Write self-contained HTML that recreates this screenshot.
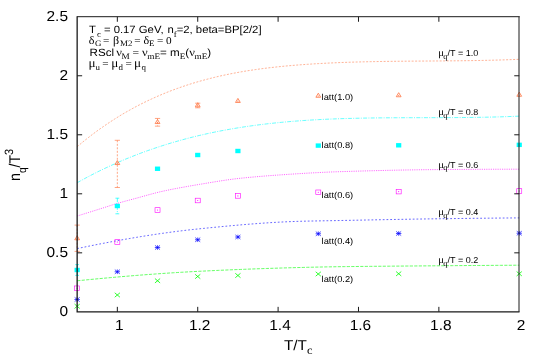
<!DOCTYPE html>
<html><head><meta charset="utf-8"><title>plot</title>
<style>html,body{margin:0;padding:0;background:#fff;}svg{display:block;will-change:transform}text{fill:#000;-webkit-font-smoothing:antialiased;text-rendering:geometricPrecision}</style></head>
<body><svg width="545" height="354" viewBox="0 0 545 354">
<rect width="545" height="354" fill="#fff"/>
<path d="M77.2,146.67 L80.9,143.57 L84.6,140.55 L88.3,137.62 L92.0,134.77 L95.7,131.99 L99.4,129.30 L103.2,126.68 L106.9,124.13 L110.6,121.66 L114.3,119.27 L118.0,116.94 L121.7,114.68 L125.4,112.50 L129.2,110.38 L132.9,108.32 L136.6,106.34 L140.3,104.41 L144.0,102.55 L147.7,100.75 L151.5,99.01 L155.2,97.32 L158.9,95.70 L162.6,94.13 L166.3,92.61 L170.0,91.15 L173.7,89.74 L177.5,88.38 L181.2,87.07 L184.9,85.81 L188.6,84.60 L192.3,83.43 L196.0,82.31 L199.7,81.23 L203.5,80.19 L207.2,79.20 L210.9,78.24 L214.6,77.33 L218.3,76.45 L222.0,75.61 L225.8,74.81 L229.5,74.04 L233.2,73.31 L236.9,72.61 L240.6,71.95 L244.3,71.31 L248.0,70.70 L251.8,70.13 L255.5,69.58 L259.2,69.06 L262.9,68.56 L266.6,68.10 L270.3,67.65 L274.1,67.23 L277.8,66.83 L281.5,66.45 L285.2,66.09 L288.9,65.75 L292.6,65.43 L296.3,65.12 L300.1,64.83 L303.8,64.56 L307.5,64.30 L311.2,64.05 L314.9,63.82 L318.6,63.60 L322.3,63.40 L326.1,63.20 L329.8,63.02 L333.5,62.85 L337.2,62.69 L340.9,62.54 L344.6,62.40 L348.4,62.27 L352.1,62.15 L355.8,62.04 L359.5,61.94 L363.2,61.85 L366.9,61.76 L370.6,61.68 L374.4,61.61 L378.1,61.54 L381.8,61.48 L385.5,61.42 L389.2,61.37 L392.9,61.32 L396.7,61.28 L400.4,61.24 L404.1,61.21 L407.8,61.17 L411.5,61.14 L415.2,61.11 L418.9,61.09 L422.7,61.06 L426.4,61.04 L430.1,61.01 L433.8,60.98 L437.5,60.96 L441.2,60.93 L444.9,60.90 L448.7,60.87 L452.4,60.84 L456.1,60.80 L459.8,60.76 L463.5,60.72 L467.2,60.67 L471.0,60.62 L474.7,60.56 L478.4,60.49 L482.1,60.43 L485.8,60.35 L489.5,60.27 L493.2,60.18 L497.0,60.08 L500.7,59.98 L504.4,59.86 L508.1,59.74 L511.8,59.61 L515.5,59.47 L519.2,59.31" fill="none" stroke="#ff7f50" stroke-width="0.6" stroke-dasharray="2,1.5"/>
<path d="M77.2,182.70 L80.9,180.64 L84.6,178.62 L88.3,176.65 L92.0,174.72 L95.7,172.83 L99.4,170.99 L103.2,169.18 L106.9,167.42 L110.6,165.70 L114.3,164.02 L118.0,162.38 L121.7,160.78 L125.4,159.21 L129.2,157.69 L132.9,156.20 L136.6,154.75 L140.3,153.34 L144.0,151.97 L147.7,150.63 L151.5,149.32 L155.2,148.05 L158.9,146.82 L162.6,145.62 L166.3,144.45 L170.0,143.32 L173.7,142.22 L177.5,141.15 L181.2,140.11 L184.9,139.10 L188.6,138.13 L192.3,137.18 L196.0,136.27 L199.7,135.38 L203.5,134.53 L207.2,133.70 L210.9,132.90 L214.6,132.12 L218.3,131.38 L222.0,130.66 L225.8,129.96 L229.5,129.29 L233.2,128.65 L236.9,128.03 L240.6,127.43 L244.3,126.86 L248.0,126.31 L251.8,125.79 L255.5,125.28 L259.2,124.80 L262.9,124.34 L266.6,123.90 L270.3,123.48 L274.1,123.07 L277.8,122.69 L281.5,122.33 L285.2,121.99 L288.9,121.66 L292.6,121.35 L296.3,121.06 L300.1,120.78 L303.8,120.52 L307.5,120.27 L311.2,120.04 L314.9,119.83 L318.6,119.63 L322.3,119.44 L326.1,119.26 L329.8,119.10 L333.5,118.95 L337.2,118.81 L340.9,118.68 L344.6,118.56 L348.4,118.45 L352.1,118.36 L355.8,118.27 L359.5,118.19 L363.2,118.12 L366.9,118.05 L370.6,117.99 L374.4,117.94 L378.1,117.90 L381.8,117.86 L385.5,117.83 L389.2,117.80 L392.9,117.78 L396.7,117.76 L400.4,117.74 L404.1,117.73 L407.8,117.72 L411.5,117.71 L415.2,117.70 L418.9,117.69 L422.7,117.69 L426.4,117.68 L430.1,117.67 L433.8,117.67 L437.5,117.66 L441.2,117.65 L444.9,117.63 L448.7,117.62 L452.4,117.60 L456.1,117.58 L459.8,117.55 L463.5,117.52 L467.2,117.48 L471.0,117.44 L474.7,117.39 L478.4,117.33 L482.1,117.27 L485.8,117.20 L489.5,117.12 L493.2,117.03 L497.0,116.94 L500.7,116.83 L504.4,116.71 L508.1,116.59 L511.8,116.45 L515.5,116.30 L519.2,116.14" fill="none" stroke="#00ffff" stroke-width="0.6" stroke-dasharray="4,1.3,1,1.3"/>
<path d="M77.2,216.01 L80.9,214.86 L84.6,213.71 L88.3,212.56 L92.0,211.40 L95.7,210.24 L99.4,209.08 L103.2,207.90 L106.9,206.70 L110.6,205.50 L114.3,204.33 L118.0,203.22 L121.7,202.16 L125.4,201.13 L129.2,200.13 L132.9,199.13 L136.6,198.13 L140.3,197.11 L144.0,196.07 L147.7,195.03 L151.5,194.02 L155.2,193.04 L158.9,192.12 L162.6,191.27 L166.3,190.47 L170.0,189.70 L173.7,188.96 L177.5,188.25 L181.2,187.56 L184.9,186.89 L188.6,186.23 L192.3,185.59 L196.0,184.96 L199.7,184.34 L203.5,183.72 L207.2,183.10 L210.9,182.47 L214.6,181.86 L218.3,181.26 L222.0,180.68 L225.8,180.12 L229.5,179.59 L233.2,179.10 L236.9,178.64 L240.6,178.24 L244.3,177.86 L248.0,177.49 L251.8,177.15 L255.5,176.81 L259.2,176.49 L262.9,176.19 L266.6,175.89 L270.3,175.61 L274.1,175.33 L277.8,175.07 L281.5,174.81 L285.2,174.56 L288.9,174.31 L292.6,174.07 L296.3,173.83 L300.1,173.60 L303.8,173.37 L307.5,173.15 L311.2,172.95 L314.9,172.75 L318.6,172.57 L322.3,172.39 L326.1,172.21 L329.8,172.04 L333.5,171.89 L337.2,171.76 L340.9,171.64 L344.6,171.53 L348.4,171.42 L352.1,171.30 L355.8,171.20 L359.5,171.09 L363.2,170.98 L366.9,170.88 L370.6,170.78 L374.4,170.68 L378.1,170.59 L381.8,170.50 L385.5,170.41 L389.2,170.33 L392.9,170.24 L396.7,170.17 L400.4,170.09 L404.1,170.02 L407.8,169.96 L411.5,169.90 L415.2,169.84 L418.9,169.78 L422.7,169.74 L426.4,169.69 L430.1,169.65 L433.8,169.62 L437.5,169.59 L441.2,169.56 L444.9,169.53 L448.7,169.50 L452.4,169.48 L456.1,169.45 L459.8,169.43 L463.5,169.40 L467.2,169.38 L471.0,169.36 L474.7,169.33 L478.4,169.31 L482.1,169.30 L485.8,169.28 L489.5,169.26 L493.2,169.25 L497.0,169.24 L500.7,169.23 L504.4,169.22 L508.1,169.21 L511.8,169.20 L515.5,169.20 L519.2,169.20" fill="none" stroke="#ff00ff" stroke-width="0.62" stroke-dasharray="1.1,1.15"/>
<path d="M77.2,248.57 L80.9,247.80 L84.6,247.04 L88.3,246.28 L92.0,245.53 L95.7,244.79 L99.4,244.06 L103.2,243.34 L106.9,242.63 L110.6,241.93 L114.3,241.24 L118.0,240.56 L121.7,239.89 L125.4,239.23 L129.2,238.58 L132.9,237.95 L136.6,237.32 L140.3,236.71 L144.0,236.11 L147.7,235.53 L151.5,234.95 L155.2,234.39 L158.9,233.84 L162.6,233.31 L166.3,232.79 L170.0,232.28 L173.7,231.79 L177.5,231.31 L181.2,230.85 L184.9,230.40 L188.6,229.97 L192.3,229.56 L196.0,229.16 L199.7,228.78 L203.5,228.40 L207.2,228.03 L210.9,227.66 L214.6,227.30 L218.3,226.94 L222.0,226.58 L225.8,226.23 L229.5,225.89 L233.2,225.55 L236.9,225.22 L240.6,224.90 L244.3,224.58 L248.0,224.28 L251.8,223.98 L255.5,223.70 L259.2,223.42 L262.9,223.16 L266.6,222.91 L270.3,222.67 L274.1,222.44 L277.8,222.23 L281.5,222.04 L285.2,221.86 L288.9,221.69 L292.6,221.54 L296.3,221.41 L300.1,221.30 L303.8,221.20 L307.5,221.11 L311.2,221.03 L314.9,220.96 L318.6,220.90 L322.3,220.83 L326.1,220.77 L329.8,220.71 L333.5,220.65 L337.2,220.58 L340.9,220.51 L344.6,220.44 L348.4,220.36 L352.1,220.29 L355.8,220.22 L359.5,220.15 L363.2,220.07 L366.9,220.00 L370.6,219.93 L374.4,219.86 L378.1,219.78 L381.8,219.71 L385.5,219.64 L389.2,219.57 L392.9,219.50 L396.7,219.43 L400.4,219.37 L404.1,219.30 L407.8,219.24 L411.5,219.17 L415.2,219.11 L418.9,219.05 L422.7,218.99 L426.4,218.94 L430.1,218.88 L433.8,218.83 L437.5,218.78 L441.2,218.73 L444.9,218.68 L448.7,218.63 L452.4,218.59 L456.1,218.54 L459.8,218.49 L463.5,218.45 L467.2,218.41 L471.0,218.36 L474.7,218.32 L478.4,218.28 L482.1,218.24 L485.8,218.20 L489.5,218.16 L493.2,218.13 L497.0,218.09 L500.7,218.05 L504.4,218.02 L508.1,217.99 L511.8,217.96 L515.5,217.93 L519.2,217.90" fill="none" stroke="#0000ff" stroke-width="0.6" stroke-dasharray="1.8,1.95"/>
<path d="M77.2,280.78 L80.9,280.42 L84.6,280.05 L88.3,279.69 L92.0,279.33 L95.7,278.98 L99.4,278.63 L103.2,278.29 L106.9,277.95 L110.6,277.62 L114.3,277.29 L118.0,276.96 L121.7,276.64 L125.4,276.33 L129.2,276.02 L132.9,275.71 L136.6,275.41 L140.3,275.12 L144.0,274.83 L147.7,274.55 L151.5,274.27 L155.2,274.00 L158.9,273.74 L162.6,273.48 L166.3,273.23 L170.0,272.98 L173.7,272.74 L177.5,272.51 L181.2,272.28 L184.9,272.07 L188.6,271.85 L192.3,271.65 L196.0,271.45 L199.7,271.26 L203.5,271.08 L207.2,270.90 L210.9,270.72 L214.6,270.55 L218.3,270.38 L222.0,270.21 L225.8,270.05 L229.5,269.89 L233.2,269.73 L236.9,269.58 L240.6,269.43 L244.3,269.29 L248.0,269.14 L251.8,269.01 L255.5,268.87 L259.2,268.74 L262.9,268.61 L266.6,268.48 L270.3,268.36 L274.1,268.24 L277.8,268.13 L281.5,268.01 L285.2,267.90 L288.9,267.80 L292.6,267.70 L296.3,267.60 L300.1,267.50 L303.8,267.40 L307.5,267.31 L311.2,267.22 L314.9,267.14 L318.6,267.06 L322.3,266.98 L326.1,266.91 L329.8,266.85 L333.5,266.79 L337.2,266.73 L340.9,266.68 L344.6,266.64 L348.4,266.59 L352.1,266.55 L355.8,266.50 L359.5,266.46 L363.2,266.42 L366.9,266.38 L370.6,266.35 L374.4,266.31 L378.1,266.28 L381.8,266.24 L385.5,266.21 L389.2,266.18 L392.9,266.14 L396.7,266.11 L400.4,266.08 L404.1,266.05 L407.8,266.02 L411.5,265.99 L415.2,265.97 L418.9,265.94 L422.7,265.91 L426.4,265.88 L430.1,265.85 L433.8,265.82 L437.5,265.79 L441.2,265.76 L444.9,265.73 L448.7,265.70 L452.4,265.67 L456.1,265.64 L459.8,265.61 L463.5,265.58 L467.2,265.56 L471.0,265.53 L474.7,265.50 L478.4,265.47 L482.1,265.45 L485.8,265.42 L489.5,265.39 L493.2,265.37 L497.0,265.34 L500.7,265.32 L504.4,265.29 L508.1,265.27 L511.8,265.25 L515.5,265.22 L519.2,265.20" fill="none" stroke="#00ff00" stroke-width="0.6" stroke-dasharray="3.2,1.3"/>
<path d="M77.15,225.10 V251.40" stroke="#ff7f50" stroke-width="0.7" stroke-dasharray="2,1.5" fill="none"/><path d="M74.55,225.10 h5.2 M74.55,251.40 h5.2" stroke="#ff7f50" stroke-width="0.7" fill="none"/>
<path d="M74.75,239.75 L79.55,239.75 L77.15,235.70 Z" fill="none" stroke="#ff7f50" stroke-width="0.9"/><circle cx="77.15" cy="238.50" r="0.6" fill="#ff7f50"/>
<path d="M117.34,140.30 V187.50" stroke="#ff7f50" stroke-width="0.7" stroke-dasharray="2,1.5" fill="none"/><path d="M114.74,140.30 h5.2 M114.74,187.50 h5.2" stroke="#ff7f50" stroke-width="0.7" fill="none"/>
<path d="M114.94,164.55 L119.74,164.55 L117.34,160.50 Z" fill="none" stroke="#ff7f50" stroke-width="0.9"/><circle cx="117.34" cy="163.30" r="0.6" fill="#ff7f50"/>
<path d="M157.53,118.45 V126.15" stroke="#ff7f50" stroke-width="0.7" stroke-dasharray="2,1.5" fill="none"/><path d="M154.93,118.45 h5.2 M154.93,126.15 h5.2" stroke="#ff7f50" stroke-width="0.7" fill="none"/>
<path d="M155.13,123.55 L159.93,123.55 L157.53,119.50 Z" fill="none" stroke="#ff7f50" stroke-width="0.9"/><circle cx="157.53" cy="122.30" r="0.6" fill="#ff7f50"/>
<path d="M197.72,103.20 V107.80" stroke="#ff7f50" stroke-width="0.7" stroke-dasharray="2,1.5" fill="none"/><path d="M195.12,103.20 h5.2 M195.12,107.80 h5.2" stroke="#ff7f50" stroke-width="0.7" fill="none"/>
<path d="M195.32,106.75 L200.12,106.75 L197.72,102.70 Z" fill="none" stroke="#ff7f50" stroke-width="0.9"/><circle cx="197.72" cy="105.50" r="0.6" fill="#ff7f50"/>
<path d="M235.51,102.45 L240.31,102.45 L237.91,98.40 Z" fill="none" stroke="#ff7f50" stroke-width="0.9"/><circle cx="237.91" cy="101.20" r="0.6" fill="#ff7f50"/>
<path d="M315.90,97.25 L320.70,97.25 L318.30,93.20 Z" fill="none" stroke="#ff7f50" stroke-width="0.9"/><circle cx="318.30" cy="96.00" r="0.6" fill="#ff7f50"/>
<path d="M396.28,96.75 L401.08,96.75 L398.68,92.70 Z" fill="none" stroke="#ff7f50" stroke-width="0.9"/><circle cx="398.68" cy="95.50" r="0.6" fill="#ff7f50"/>
<path d="M516.85,96.25 L521.65,96.25 L519.25,92.20 Z" fill="none" stroke="#ff7f50" stroke-width="0.9"/><circle cx="519.25" cy="95.00" r="0.6" fill="#ff7f50"/>
<path d="M77.15,264.60 V275.40" stroke="#00ffff" stroke-width="0.7" stroke-dasharray="4,1.3,1,1.3" fill="none"/><path d="M75.25,264.60 h3.8 M75.25,275.40 h3.8" stroke="#00ffff" stroke-width="0.7" fill="none"/>
<rect x="74.55" y="267.80" width="5.2" height="4.4" fill="#00ffff"/>
<path d="M117.34,198.20 V213.80" stroke="#00ffff" stroke-width="0.7" stroke-dasharray="4,1.3,1,1.3" fill="none"/><path d="M115.44,198.20 h3.8 M115.44,213.80 h3.8" stroke="#00ffff" stroke-width="0.7" fill="none"/>
<rect x="114.74" y="203.80" width="5.2" height="4.4" fill="#00ffff"/>
<rect x="154.93" y="166.55" width="5.2" height="4.4" fill="#00ffff"/>
<rect x="195.12" y="152.80" width="5.2" height="4.4" fill="#00ffff"/>
<rect x="235.31" y="148.80" width="5.2" height="4.4" fill="#00ffff"/>
<rect x="315.70" y="143.40" width="5.2" height="4.4" fill="#00ffff"/>
<rect x="396.08" y="143.10" width="5.2" height="4.4" fill="#00ffff"/>
<rect x="516.65" y="142.65" width="5.2" height="4.4" fill="#00ffff"/>
<rect x="74.65" y="285.95" width="5" height="4.6" fill="none" stroke="#ff00ff" stroke-width="0.6"/><circle cx="77.15" cy="288.25" r="0.55" fill="#ff00ff"/>
<rect x="114.84" y="239.70" width="5" height="4.6" fill="none" stroke="#ff00ff" stroke-width="0.6"/><circle cx="117.34" cy="242.00" r="0.55" fill="#ff00ff"/>
<rect x="155.03" y="207.70" width="5" height="4.6" fill="none" stroke="#ff00ff" stroke-width="0.6"/><circle cx="157.53" cy="210.00" r="0.55" fill="#ff00ff"/>
<rect x="195.22" y="198.20" width="5" height="4.6" fill="none" stroke="#ff00ff" stroke-width="0.6"/><circle cx="197.72" cy="200.50" r="0.55" fill="#ff00ff"/>
<rect x="235.41" y="193.60" width="5" height="4.6" fill="none" stroke="#ff00ff" stroke-width="0.6"/><circle cx="237.91" cy="195.90" r="0.55" fill="#ff00ff"/>
<rect x="315.80" y="190.00" width="5" height="4.6" fill="none" stroke="#ff00ff" stroke-width="0.6"/><circle cx="318.30" cy="192.30" r="0.55" fill="#ff00ff"/>
<rect x="396.18" y="189.30" width="5" height="4.6" fill="none" stroke="#ff00ff" stroke-width="0.6"/><circle cx="398.68" cy="191.60" r="0.55" fill="#ff00ff"/>
<rect x="516.75" y="188.70" width="5" height="4.6" fill="none" stroke="#ff00ff" stroke-width="0.6"/><circle cx="519.25" cy="191.00" r="0.55" fill="#ff00ff"/>
<path d="M74.45,299.50 H79.85 M77.15,297.20 V301.80 M74.65,297.40 L79.65,301.60 M74.65,301.60 L79.65,297.40" stroke="#0000ff" stroke-width="0.7" fill="none"/>
<path d="M114.64,271.75 H120.04 M117.34,269.45 V274.05 M114.84,269.65 L119.84,273.85 M114.84,273.85 L119.84,269.65" stroke="#0000ff" stroke-width="0.7" fill="none"/>
<path d="M154.83,247.50 H160.23 M157.53,245.20 V249.80 M155.03,245.40 L160.03,249.60 M155.03,249.60 L160.03,245.40" stroke="#0000ff" stroke-width="0.7" fill="none"/>
<path d="M195.02,239.75 H200.42 M197.72,237.45 V242.05 M195.22,237.65 L200.22,241.85 M195.22,241.85 L200.22,237.65" stroke="#0000ff" stroke-width="0.7" fill="none"/>
<path d="M235.21,237.00 H240.61 M237.91,234.70 V239.30 M235.41,234.90 L240.41,239.10 M235.41,239.10 L240.41,234.90" stroke="#0000ff" stroke-width="0.7" fill="none"/>
<path d="M315.60,233.75 H321.00 M318.30,231.45 V236.05 M315.80,231.65 L320.80,235.85 M315.80,235.85 L320.80,231.65" stroke="#0000ff" stroke-width="0.7" fill="none"/>
<path d="M395.98,233.50 H401.38 M398.68,231.20 V235.80 M396.18,231.40 L401.18,235.60 M396.18,235.60 L401.18,231.40" stroke="#0000ff" stroke-width="0.7" fill="none"/>
<path d="M516.55,233.25 H521.95 M519.25,230.95 V235.55 M516.75,231.15 L521.75,235.35 M516.75,235.35 L521.75,231.15" stroke="#0000ff" stroke-width="0.7" fill="none"/>
<path d="M74.55,304.05 L79.75,308.45 M74.55,308.45 L79.75,304.05" stroke="#00ff00" stroke-width="0.8" fill="none"/>
<path d="M114.74,292.80 L119.94,297.20 M114.74,297.20 L119.94,292.80" stroke="#00ff00" stroke-width="0.8" fill="none"/>
<path d="M154.93,278.55 L160.13,282.95 M154.93,282.95 L160.13,278.55" stroke="#00ff00" stroke-width="0.8" fill="none"/>
<path d="M195.12,274.30 L200.32,278.70 M195.12,278.70 L200.32,274.30" stroke="#00ff00" stroke-width="0.8" fill="none"/>
<path d="M235.31,273.30 L240.51,277.70 M235.31,277.70 L240.51,273.30" stroke="#00ff00" stroke-width="0.8" fill="none"/>
<path d="M315.70,271.80 L320.90,276.20 M315.70,276.20 L320.90,271.80" stroke="#00ff00" stroke-width="0.8" fill="none"/>
<path d="M396.08,271.55 L401.28,275.95 M396.08,275.95 L401.28,271.55" stroke="#00ff00" stroke-width="0.8" fill="none"/>
<path d="M516.65,271.55 L521.85,275.95 M516.65,275.95 L521.85,271.55" stroke="#00ff00" stroke-width="0.8" fill="none"/>
<path d="M77.15,16.25 V312.5 M76.5,311.85 H519.5" fill="none" stroke="#1a1a1a" stroke-width="1.3"/><path d="M77.15,16.7 H519.75 M519.0,16.75 V311.85" fill="none" stroke="#1a1a1a" stroke-width="1"/>
<path d="M117.34,311.85 v-5 M117.34,16.75 v5 M197.72,311.85 v-5 M197.72,16.75 v5 M278.10,311.85 v-5 M278.10,16.75 v5 M358.49,311.85 v-5 M358.49,16.75 v5 M438.87,311.85 v-5 M438.87,16.75 v5 M77.15,252.83 h5 M519.25,252.83 h-5 M77.15,193.81 h5 M519.25,193.81 h-5 M77.15,134.79 h5 M519.25,134.79 h-5 M77.15,75.77 h5 M519.25,75.77 h-5" stroke="#1a1a1a" stroke-width="1" fill="none"/>
<text transform="translate(119.24,329.7) scale(1.065,1)" text-anchor="middle" style="font-family:'Liberation Sans',sans-serif;font-size:14.5px" xml:space="preserve">1</text>
<text transform="translate(199.62,329.7) scale(1.065,1)" text-anchor="middle" style="font-family:'Liberation Sans',sans-serif;font-size:14.5px" xml:space="preserve">1.2</text>
<text transform="translate(280.0,329.7) scale(1.065,1)" text-anchor="middle" style="font-family:'Liberation Sans',sans-serif;font-size:14.5px" xml:space="preserve">1.4</text>
<text transform="translate(360.39,329.7) scale(1.065,1)" text-anchor="middle" style="font-family:'Liberation Sans',sans-serif;font-size:14.5px" xml:space="preserve">1.6</text>
<text transform="translate(440.77,329.7) scale(1.065,1)" text-anchor="middle" style="font-family:'Liberation Sans',sans-serif;font-size:14.5px" xml:space="preserve">1.8</text>
<text transform="translate(521.15,329.7) scale(1.065,1)" text-anchor="middle" style="font-family:'Liberation Sans',sans-serif;font-size:14.5px" xml:space="preserve">2</text>
<text transform="translate(68,316.35) scale(1.065,1)" text-anchor="end" style="font-family:'Liberation Sans',sans-serif;font-size:14.5px" xml:space="preserve">0</text>
<text transform="translate(68,257.33) scale(1.065,1)" text-anchor="end" style="font-family:'Liberation Sans',sans-serif;font-size:14.5px" xml:space="preserve">0.5</text>
<text transform="translate(68,198.31) scale(1.065,1)" text-anchor="end" style="font-family:'Liberation Sans',sans-serif;font-size:14.5px" xml:space="preserve">1</text>
<text transform="translate(68,139.29) scale(1.065,1)" text-anchor="end" style="font-family:'Liberation Sans',sans-serif;font-size:14.5px" xml:space="preserve">1.5</text>
<text transform="translate(68,80.27) scale(1.065,1)" text-anchor="end" style="font-family:'Liberation Sans',sans-serif;font-size:14.5px" xml:space="preserve">2</text>
<text transform="translate(68,21.25) scale(1.065,1)" text-anchor="end" style="font-family:'Liberation Sans',sans-serif;font-size:14.5px" xml:space="preserve">2.5</text>
<text transform="translate(284,350.0) scale(1.07,1)" text-anchor="start" style="font-family:'Liberation Sans',sans-serif;font-size:14.3px" xml:space="preserve">T/T<tspan dy="3.8" style="font-family:'Liberation Serif',serif;font-size:11.5px">c</tspan></text>
<text transform="translate(19.8,181.0) rotate(-90) scale(0.915,1)" text-anchor="start" style="font-family:'Liberation Sans',sans-serif;font-size:15.5px" xml:space="preserve">n<tspan dy="5.7" style="font-size:11px">q</tspan><tspan dy="-5.7">/T</tspan><tspan dy="-7" style="font-size:12px">3</tspan></text>
<text transform="translate(88.9,32.5) scale(1.077,1)" text-anchor="start" style="font-family:'Liberation Sans',sans-serif" xml:space="preserve"><tspan dy="0.00" style="font-family:'Liberation Sans',sans-serif;font-size:10.5px">T</tspan><tspan dy="4.00" dx="1.11" style="font-family:'Liberation Serif',serif;font-size:8.3px">c</tspan><tspan dy="-4.00" dx="-0.19" style="font-family:'Liberation Sans',sans-serif;font-size:10.5px">&#160;=&#160;0.17&#160;GeV,</tspan><tspan dy="0.00" dx="0.65" style="font-family:'Liberation Sans',sans-serif;font-size:10.5px">&#160;n</tspan><tspan dy="4.00" style="font-family:'Liberation Serif',serif;font-size:8.3px">f</tspan><tspan dy="-4.00" style="font-family:'Liberation Sans',sans-serif;font-size:10.5px">=2,&#160;beta=BP[2/2]</tspan></text>
<text transform="translate(88.8,43.8) scale(1.07,1)" text-anchor="start" style="font-family:'Liberation Serif',serif" xml:space="preserve"><tspan dy="0.00" style="font-family:'Liberation Serif',serif;font-size:11.3px;letter-spacing:-0.35px">δ</tspan><tspan dy="2.60" dx="0.75" style="font-family:'Liberation Serif',serif;font-size:8.3px">G</tspan><tspan dy="-2.60" dx="-1.12" style="font-family:'Liberation Serif',serif;font-size:10.5px">&#160;=&#160;</tspan><tspan dy="0.00" dx="0.93" style="font-family:'Liberation Serif',serif;font-size:11.3px;letter-spacing:-0.35px">β</tspan><tspan dy="2.60" dx="1.12" style="font-family:'Liberation Serif',serif;font-size:8.3px">M2</tspan><tspan dy="-2.60" dx="-0.93" style="font-family:'Liberation Serif',serif;font-size:10.5px">&#160;=&#160;</tspan><tspan dy="0.00" style="font-family:'Liberation Serif',serif;font-size:11.3px;letter-spacing:-0.35px">δ</tspan><tspan dy="2.60" dx="0.28" style="font-family:'Liberation Serif',serif;font-size:8.3px">E</tspan><tspan dy="-2.60" dx="-0.28" style="font-family:'Liberation Serif',serif;font-size:10.5px">&#160;=&#160;0</tspan></text>
<text transform="translate(89.6,56.1) scale(1.107,1)" text-anchor="start" style="font-family:'Liberation Sans',sans-serif" xml:space="preserve"><tspan dy="0.00" style="font-family:'Liberation Sans',sans-serif;font-size:10.5px">RScl&#160;</tspan><tspan dy="0.00" dx="-1.08" style="font-family:'Liberation Serif',serif;font-size:11.3px;letter-spacing:-0.35px">ν</tspan><tspan dy="3.30" style="font-family:'Liberation Serif',serif;font-size:8.3px">M</tspan><tspan dy="-3.30" style="font-family:'Liberation Serif',serif;font-size:10.5px">&#160;=&#160;</tspan><tspan dy="0.00" style="font-family:'Liberation Serif',serif;font-size:11.3px;letter-spacing:-0.35px">ν</tspan><tspan dy="3.30" style="font-family:'Liberation Serif',serif;font-size:8.3px">mE</tspan><tspan dy="-3.30" style="font-family:'Liberation Sans',sans-serif;font-size:10.5px">=&#160;m</tspan><tspan dy="3.30" style="font-family:'Liberation Serif',serif;font-size:8.3px">E</tspan><tspan dy="-3.30" style="font-family:'Liberation Sans',sans-serif;font-size:10.5px">(</tspan><tspan dy="0.00" style="font-family:'Liberation Serif',serif;font-size:11.3px;letter-spacing:-0.35px">ν</tspan><tspan dy="3.30" style="font-family:'Liberation Serif',serif;font-size:8.3px">mE</tspan><tspan dy="-3.30" style="font-family:'Liberation Sans',sans-serif;font-size:10.5px">)</tspan></text>
<text transform="translate(88.4,67.1) scale(1.07,1)" text-anchor="start" style="font-family:'Liberation Serif',serif" xml:space="preserve"><tspan dy="0.00" style="font-family:'Liberation Serif',serif;font-size:12.3px;letter-spacing:-0.6px">μ</tspan><tspan dy="3.30" dx="0.65" style="font-family:'Liberation Serif',serif;font-size:8.3px">u</tspan><tspan dy="-3.30" dx="-0.47" style="font-family:'Liberation Serif',serif;font-size:10.5px">&#160;=&#160;</tspan><tspan dy="0.00" dx="-0.19" style="font-family:'Liberation Serif',serif;font-size:12.3px;letter-spacing:-0.6px">μ</tspan><tspan dy="3.30" dx="0.75" style="font-family:'Liberation Serif',serif;font-size:8.3px">d</tspan><tspan dy="-3.30" dx="-0.28" style="font-family:'Liberation Serif',serif;font-size:10.5px">&#160;=&#160;</tspan><tspan dy="0.00" dx="-0.47" style="font-family:'Liberation Serif',serif;font-size:12.3px;letter-spacing:-0.6px">μ</tspan><tspan dy="3.30" dx="0.93" style="font-family:'Liberation Serif',serif;font-size:8.3px">q</tspan></text>
<text transform="translate(321.6,99.7) scale(1.085,1)" text-anchor="start" style="font-family:'Liberation Sans',sans-serif;font-size:8.6px" xml:space="preserve">latt(1.0)</text>
<text transform="translate(321.6,148.45) scale(1.085,1)" text-anchor="start" style="font-family:'Liberation Sans',sans-serif;font-size:8.6px" xml:space="preserve">latt(0.8)</text>
<text transform="translate(321.6,197.79999999999998) scale(1.085,1)" text-anchor="start" style="font-family:'Liberation Sans',sans-serif;font-size:8.6px" xml:space="preserve">latt(0.6)</text>
<text transform="translate(321.6,244.2) scale(1.085,1)" text-anchor="start" style="font-family:'Liberation Sans',sans-serif;font-size:8.6px" xml:space="preserve">latt(0.4)</text>
<text transform="translate(321.6,281.59999999999997) scale(1.085,1)" text-anchor="start" style="font-family:'Liberation Sans',sans-serif;font-size:8.6px" xml:space="preserve">latt(0.2)</text>
<text transform="translate(438.2,56.25) scale(1.05,1)" text-anchor="start" style="font-family:'Liberation Sans',sans-serif;font-size:8.6px" xml:space="preserve"><tspan style="font-family:'Liberation Serif',serif;font-size:10.2px;letter-spacing:-0.55px">μ</tspan><tspan dy="2.9" style="font-family:'Liberation Serif',serif;font-size:8px">q</tspan><tspan dy="-2.9">/T = 1.0</tspan></text>
<text transform="translate(438.2,115) scale(1.05,1)" text-anchor="start" style="font-family:'Liberation Sans',sans-serif;font-size:8.6px" xml:space="preserve"><tspan style="font-family:'Liberation Serif',serif;font-size:10.2px;letter-spacing:-0.55px">μ</tspan><tspan dy="2.9" style="font-family:'Liberation Serif',serif;font-size:8px">q</tspan><tspan dy="-2.9">/T = 0.8</tspan></text>
<text transform="translate(438.2,167.5) scale(1.05,1)" text-anchor="start" style="font-family:'Liberation Sans',sans-serif;font-size:8.6px" xml:space="preserve"><tspan style="font-family:'Liberation Serif',serif;font-size:10.2px;letter-spacing:-0.55px">μ</tspan><tspan dy="2.9" style="font-family:'Liberation Serif',serif;font-size:8px">q</tspan><tspan dy="-2.9">/T = 0.6</tspan></text>
<text transform="translate(438.2,215.3) scale(1.05,1)" text-anchor="start" style="font-family:'Liberation Sans',sans-serif;font-size:8.6px" xml:space="preserve"><tspan style="font-family:'Liberation Serif',serif;font-size:10.2px;letter-spacing:-0.55px">μ</tspan><tspan dy="2.9" style="font-family:'Liberation Serif',serif;font-size:8px">q</tspan><tspan dy="-2.9">/T = 0.4</tspan></text>
<text transform="translate(438.2,262.8) scale(1.05,1)" text-anchor="start" style="font-family:'Liberation Sans',sans-serif;font-size:8.6px" xml:space="preserve"><tspan style="font-family:'Liberation Serif',serif;font-size:10.2px;letter-spacing:-0.55px">μ</tspan><tspan dy="2.9" style="font-family:'Liberation Serif',serif;font-size:8px">q</tspan><tspan dy="-2.9">/T = 0.2</tspan></text>
</svg></body></html>
